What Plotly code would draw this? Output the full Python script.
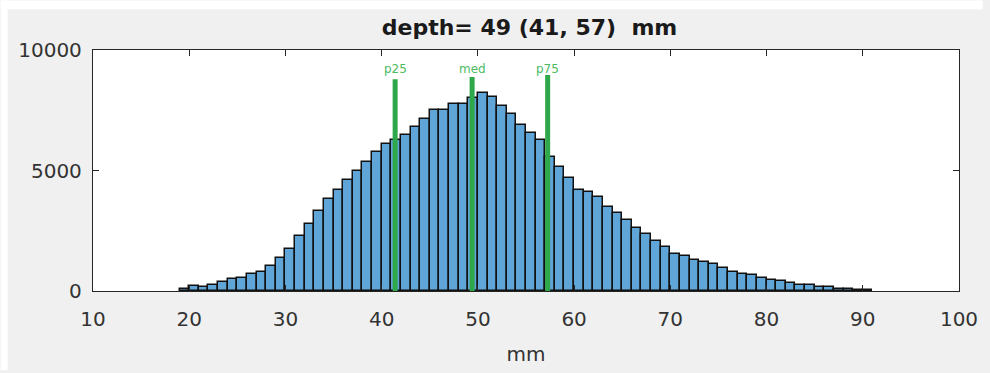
import plotly.graph_objects as go

# Histogram of depth: 1 mm bins, left edges 19..90
bin_left = list(range(19, 91))
counts = [
    80, 200, 160, 250, 380, 480, 560, 720, 800, 1030,      # 19-28
    1350, 1730, 2300, 2760, 3310, 3800, 4210, 4590, 4990, 5370,  # 29-38
    5760, 6090, 6270, 6480, 6790, 7120, 7500, 7500, 7740, 7740,  # 39-48
    8020, 8230, 8070, 7670, 7360, 6890, 6560, 6260, 5560, 5150,  # 49-58
    4680, 4200, 4120, 3880, 3505, 3250, 2940, 2630, 2380, 2070,  # 59-68
    1830, 1520, 1440, 1270, 1190, 1110, 960, 800, 720, 650,      # 69-78
    560, 460, 400, 320, 250, 240, 170, 170, 100, 100,            # 79-88
    60, 60,                                                      # 89-90
]
bin_width = 1.0

# Percentile markers
marker_names = ["p25", "med", "p75"]
marker_x = [41.4, 49.4, 57.25]
marker_top = [8790, 8880, 8960]
label_y = 9220

x_ticks = [10, 20, 30, 40, 50, 60, 70, 80, 90, 100]
y_ticks = [0, 5000, 10000]

title_text = "depth= 49 (41, 57)  mm"
x_label = "mm"

GREEN = "#2ea84a"
AXIS = "#262626"
FONT = "DejaVu Sans"

fig = go.Figure()

fig.add_trace(go.Bar(
    x=[b + bin_width / 2 for b in bin_left],
    y=counts,
    width=bin_width,
    marker=dict(color="#60a5d8", line=dict(color="#111111", width=1.5)),
    showlegend=False,
    hoverinfo="x+y",
))

for name, xv, top in zip(marker_names, marker_x, marker_top):
    fig.add_trace(go.Scatter(
        x=[xv, xv], y=[0, top], mode="lines",
        line=dict(color=GREEN, width=5),
        showlegend=False, hoverinfo="skip",
    ))
    fig.add_annotation(
        x=xv, y=label_y, text=name, showarrow=False,
        font=dict(family=FONT, size=12, color="#4cbb62"),
        xanchor="center", yanchor="middle",
    )

fig.update_xaxes(
    range=[10, 100], tickvals=x_ticks, ticktext=[str(v) for v in x_ticks],
    showline=True, linecolor=AXIS, linewidth=1.3, mirror="ticks",
    ticks="inside", ticklen=6, tickcolor=AXIS, tickwidth=1.2,
    showgrid=False, zeroline=False,
    tickfont=dict(family=FONT, size=20, color="#333333"),
    ticklabelstandoff=10,
    title=dict(text=x_label, font=dict(family=FONT, size=20, color="#333333"), standoff=16),
)
fig.update_yaxes(
    range=[0, 10000], tickvals=y_ticks, ticktext=[str(v) for v in y_ticks],
    showline=True, linecolor=AXIS, linewidth=1.3, mirror="ticks",
    ticks="inside", ticklen=6, tickcolor=AXIS, tickwidth=1.2,
    showgrid=False, zeroline=False,
    tickfont=dict(family=FONT, size=20, color="#333333"),
    ticklabelstandoff=6,
)

fig.update_layout(
    width=990, height=373,
    margin=dict(l=93, r=24, t=50, b=80),
    paper_bgcolor="#f0f0f0",
    plot_bgcolor="#ffffff",
    bargap=0,
    title=dict(
        text="<b>" + title_text + "</b>",
        x=(93 + 966) / 2 / 990, xanchor="center",
        y=1 - 27 / 373, yanchor="middle",
        font=dict(family=FONT, size=22, color="#1a1a1a"),
    ),
    shapes=[
        dict(type="rect", xref="paper", yref="paper",
             x0=-93 / 873, x1=(990 - 93) / 873,
             y0=(293 - 0) / 243, y1=(293 - 9) / 243,
             fillcolor="#ffffff", line=dict(width=0), layer="below"),
        dict(type="rect", xref="paper", yref="paper",
             x0=-93 / 873, x1=(7 - 93) / 873,
             y0=(293 - 373) / 243, y1=(293 - 0) / 243,
             fillcolor="#ffffff", line=dict(width=0), layer="below"),
    ],
)

fig.write_html("out.html")
